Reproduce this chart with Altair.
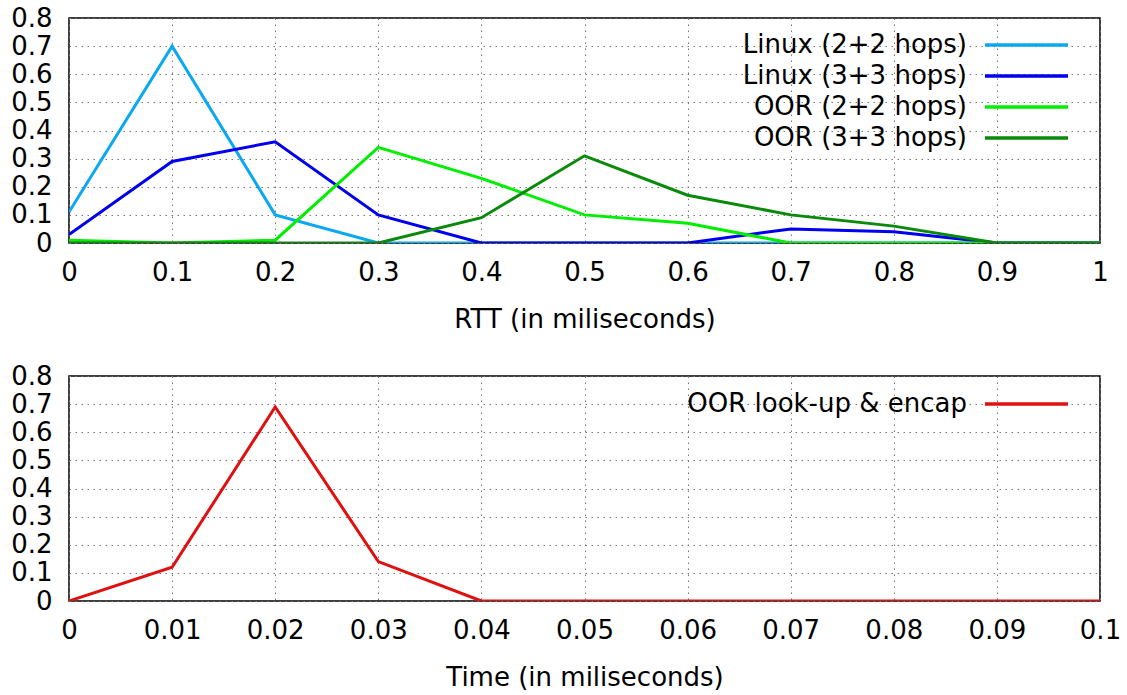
import altair as alt
import pandas as pd

# ---- data ----
rtt_x = [0.0, 0.1, 0.2, 0.3, 0.4, 0.5, 0.6, 0.7, 0.8, 0.9, 1.0]
linux_22 = [0.11, 0.70, 0.10, 0.00, 0.00, 0.00, 0.00, 0.00, 0.00, 0.00, 0.00]
linux_33 = [0.03, 0.29, 0.36, 0.10, 0.00, 0.00, 0.00, 0.05, 0.04, 0.00, 0.00]
oor_22 = [0.01, 0.00, 0.01, 0.34, 0.23, 0.10, 0.07, 0.00, 0.00, 0.00, 0.00]
oor_33 = [0.00, 0.00, 0.00, 0.00, 0.09, 0.31, 0.17, 0.10, 0.06, 0.00, 0.00]
series_names = ["Linux (2+2 hops)", "Linux (3+3 hops)", "OOR (2+2 hops)", "OOR (3+3 hops)"]
series_colors = ["#0aa8f0", "#0000ee", "#00ee00", "#0a8a0a"]

time_x = [0.0, 0.01, 0.02, 0.03, 0.04, 0.05, 0.06, 0.07, 0.08, 0.09, 0.1]
oor_lookup = [0.00, 0.12, 0.69, 0.14, 0.00, 0.00, 0.00, 0.00, 0.00, 0.00, 0.00]
lookup_name = "OOR look-up & encap"
lookup_color = "#e01010"

y_ticks = [0, 0.1, 0.2, 0.3, 0.4, 0.5, 0.6, 0.7, 0.8]

# ---- tables ----
rows = []
for name, vals in zip(series_names, [linux_22, linux_33, oor_22, oor_33]):
    for x, v in zip(rtt_x, vals):
        rows.append({"x": x, "y": v, "series": name})
top_df = pd.DataFrame(rows)
top_leg = pd.DataFrame({"series": series_names})

bot_df = pd.DataFrame({"x": time_x, "y": oor_lookup, "series": lookup_name})
bot_leg = pd.DataFrame({"series": [lookup_name]})

FONT = "DejaVu Sans"
FS = 26
W, H = 1031, 225

grid_kw = dict(grid=True, gridColor="#777777", gridDash=[1.5, 4.5], gridWidth=1,
               ticks=False, domain=False, labelFont=FONT, labelFontSize=FS,
               labelColor="black", titleFont=FONT, titleFontSize=FS,
               titleFontWeight="normal", titleColor="black", format="~g")


def panel(df, leg, names, colors, xticks, xtitle):
    color = alt.Color("series:N", scale=alt.Scale(domain=names, range=colors), legend=None)
    lines = alt.Chart(df).mark_line(strokeWidth=3, clip=True).encode(
        x=alt.X("x:Q", scale=alt.Scale(domain=[xticks[0], xticks[-1]], nice=False),
                axis=alt.Axis(values=xticks, title=xtitle, labelPadding=16,
                              titlePadding=21, labelFlush=False, **grid_kw)),
        y=alt.Y("y:Q", scale=alt.Scale(domain=[0, 0.8], nice=False),
                axis=alt.Axis(values=y_ticks, title=None, labelPadding=17, **grid_kw)),
        color=color,
        detail="series:N",
    )
    n = len(names)
    yrange = [27, 27 + 31 * (n - 1)] if n > 1 else [28, 28]
    ly = alt.Y("series:N", sort=names,
               scale=alt.Scale(type="point", domain=names, range=yrange, padding=0),
               axis=None)
    txt = alt.Chart(leg).mark_text(align="right", baseline="middle", font=FONT,
                                   fontSize=FS, color="black").encode(
        x=alt.value(898), y=ly, text="series:N")
    rule = alt.Chart(leg).mark_rule(strokeWidth=3.5).encode(
        x=alt.value(916), x2=alt.value(999), y=ly, color=color)
    return alt.layer(lines, txt, rule).resolve_scale(y="independent").properties(
        width=W, height=H)


top = panel(top_df, top_leg, series_names, series_colors, rtt_x, "RTT (in miliseconds)")
bot = panel(bot_df, bot_leg, [lookup_name], [lookup_color], time_x, "Time (in miliseconds)")

chart = alt.vconcat(top, bot, spacing=29).resolve_scale(color="independent").properties(
    padding={"left": 9, "top": 4, "right": 0, "bottom": 0},
    background="white",
).configure_view(stroke="black", strokeWidth=1.5)

chart.save("out.html", embed_options={"renderer": "svg", "actions": False})
